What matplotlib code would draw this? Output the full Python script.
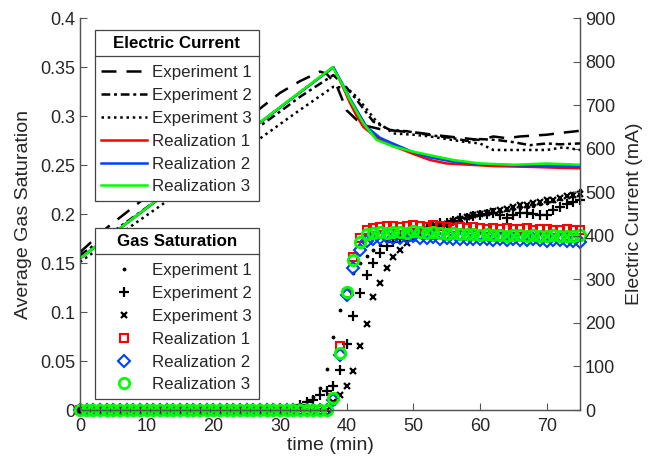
import matplotlib
matplotlib.use("Agg")
import matplotlib.pyplot as plt
from matplotlib.lines import Line2D
from matplotlib.transforms import IdentityTransform

plt.rcParams['font.family'] = ['Liberation Sans', 'DejaVu Sans']

# ---------------- data ----------------
# Gas saturation (left axis), one sample per minute, t = 0..75
t_sat = list(range(0, 76))

sat_exp1 = [0.0] * 31 + [
    0.002, 0.004, 0.006, 0.009, 0.013, 0.022, 0.042, 0.075, 0.102, 0.125,
    0.140, 0.150, 0.157, 0.163, 0.168, 0.172, 0.176, 0.179, 0.182, 0.184,
    0.186, 0.188, 0.190, 0.192, 0.193, 0.195, 0.196, 0.198, 0.199, 0.200,
    0.201, 0.202, 0.203, 0.204, 0.205, 0.206, 0.207, 0.208, 0.210, 0.211,
    0.213, 0.215, 0.218, 0.221, 0.224]
sat_exp2 = [0.0] * 33 + [
    0.005, 0.008, 0.010, 0.015, 0.019, 0.024, 0.041, 0.067, 0.096, 0.119,
    0.138, 0.150, 0.160, 0.167, 0.171, 0.175, 0.178, 0.181, 0.183, 0.185,
    0.188, 0.191, 0.191, 0.193, 0.196, 0.196, 0.198, 0.199, 0.200, 0.201,
    0.199, 0.196, 0.199, 0.201, 0.201, 0.200, 0.199, 0.199, 0.204, 0.207,
    0.210, 0.212, 0.214]
sat_exp3 = [0.0] * 38 + [
    0.008, 0.015, 0.024, 0.040, 0.065, 0.088, 0.115, 0.130, 0.145, 0.156,
    0.163, 0.170, 0.176, 0.180, 0.184, 0.186, 0.189, 0.190, 0.193, 0.195,
    0.197, 0.199, 0.200, 0.201, 0.203, 0.204, 0.205, 0.207, 0.209, 0.209,
    0.211, 0.212, 0.214, 0.214, 0.216, 0.218, 0.219, 0.220]
sat_real1 = [0.0] * 38 + [
    0.012, 0.065, 0.119, 0.156, 0.176, 0.184, 0.186, 0.187, 0.188, 0.188,
    0.187, 0.188, 0.189, 0.188, 0.187, 0.189, 0.188, 0.187, 0.186, 0.187,
    0.186, 0.187, 0.186, 0.185, 0.186, 0.185, 0.186, 0.185, 0.185, 0.186,
    0.184, 0.185, 0.185, 0.184, 0.184, 0.185, 0.184, 0.184]
sat_real2 = [0.0] * 38 + [
    0.010, 0.056, 0.117, 0.145, 0.163, 0.172, 0.175, 0.176, 0.177, 0.176,
    0.176, 0.177, 0.178, 0.176, 0.176, 0.177, 0.175, 0.176, 0.175, 0.174,
    0.175, 0.174, 0.175, 0.174, 0.173, 0.174, 0.173, 0.174, 0.173, 0.173,
    0.174, 0.173, 0.172, 0.173, 0.173, 0.172, 0.172, 0.171]
sat_real3 = [0.0] * 38 + [
    0.012, 0.058, 0.120, 0.153, 0.171, 0.180, 0.181, 0.182, 0.181, 0.182,
    0.182, 0.181, 0.183, 0.182, 0.181, 0.182, 0.181, 0.180, 0.181, 0.180,
    0.180, 0.180, 0.179, 0.180, 0.179, 0.179, 0.178, 0.179, 0.179, 0.178,
    0.179, 0.178, 0.178, 0.179, 0.178, 0.178, 0.178, 0.179]

# Electric current (right axis, mA)
t_cur_exp1 = [0, 4, 10, 20, 26, 30, 33, 36, 37, 38.5, 40, 41.5, 43, 45, 48, 51,
              54, 57, 60, 62, 64, 66, 68, 70, 72, 75]
cur_exp1 = [362, 418, 490, 610, 680, 728, 755, 777, 772, 745, 688, 666, 652, 645,
            640, 636, 630, 625, 620, 628, 624, 628, 630, 632, 636, 641]
t_cur_exp2 = [0, 10, 20, 30, 33, 38, 40, 41.5, 44, 46.5, 49, 51, 53, 56, 58, 60,
              62.5, 65, 67.5, 70, 72, 75]
cur_exp2 = [355, 465, 575, 685, 719, 769, 740, 712, 662, 643, 640, 635, 630, 624,
            618, 622, 620, 615, 608, 612, 610, 612]
t_cur_exp3 = [0, 10, 20, 26.7, 32.25, 38, 40, 41.5, 44.5, 47, 50, 52.5, 55, 57.5,
              60, 62, 65, 70, 72.5, 75]
cur_exp3 = [340, 447, 554, 620, 681, 742, 740, 719, 662, 635, 632, 628, 622, 616,
            612, 597, 597, 597, 603, 597]
t_cur_real1 = [0, 38, 39.25, 40.5, 41.5, 42.5, 44, 46, 48.5, 50.5, 52.5, 55, 58.5,
               62, 65, 68, 70, 72, 75]
cur_real1 = [348, 787, 748, 705, 675, 650, 631, 612, 597, 585, 574, 566, 563, 560,
             559, 558, 557, 556, 555]
t_cur_real2 = [0, 38, 39.25, 40.5, 43, 45, 47.5, 50, 52.5, 56, 60, 65, 70, 75]
cur_real2 = [348, 787, 752, 715, 650, 625, 608, 592, 580, 570, 565, 562, 561, 559]
t_cur_real3 = [0, 37.9, 39.25, 40.5, 42.5, 44.5, 47, 50, 52.5, 56, 60, 65, 70, 75]
cur_real3 = [348, 787, 750, 712, 658, 620, 605, 593, 585, 574, 566, 563, 566, 563]

labels = ["Experiment 1", "Experiment 2", "Experiment 3",
          "Realization 1", "Realization 2", "Realization 3"]

# ---------------- figure ----------------
fig = plt.figure(figsize=(6.48, 4.69), dpi=100)
ax = fig.add_axes([80 / 648, 1 - 410 / 469, 500 / 648, 392 / 469])
ax2 = ax.twinx()

RED = '#ff0000'
BLUE = '#0040ff'
GREEN = '#00ff00'
spine_c = '#555555'
txt_c = '#262626'

# markers (left axis)
mk = []
mk.append(ax.plot(t_sat, sat_exp1, ls='none', marker='.', ms=3.5, color='k', clip_on=False)[0])
mk.append(ax.plot(t_sat, sat_exp2, ls='none', marker='+', ms=7, mew=1.6, color='k', clip_on=False)[0])
mk.append(ax.plot(t_sat, sat_exp3, ls='none', marker='x', ms=5, mew=1.6, color='k', clip_on=False)[0])
mk.append(ax.plot(t_sat, sat_real1, ls='none', marker='s', ms=6, mew=1.5, mfc='none', mec=RED, clip_on=False)[0])
mk.append(ax.plot(t_sat, sat_real2, ls='none', marker='D', ms=6, mew=1.5, mfc='none', mec=BLUE, clip_on=False)[0])
mk.append(ax.plot(t_sat, sat_real3, ls='none', marker='o', ms=7.5, mew=2, mfc='none', mec=GREEN, clip_on=False)[0])

# lines (right axis)
ln = []
ln.append(ax2.plot(t_cur_exp1, cur_exp1, color='k', lw=1.8, dashes=(6, 4))[0])
ln.append(ax2.plot(t_cur_exp2, cur_exp2, color='k', lw=1.8, dashes=(3.5, 1.5, 1.2, 1.5))[0])
ln.append(ax2.plot(t_cur_exp3, cur_exp3, color='k', lw=1.8, dashes=(1, 1.5))[0])
ln.append(ax2.plot(t_cur_real1, cur_real1, color=RED, lw=1.8)[0])
ln.append(ax2.plot(t_cur_real2, cur_real2, color=BLUE, lw=1.8)[0])
ln.append(ax2.plot(t_cur_real3, cur_real3, color=GREEN, lw=1.8)[0])

ax.set_xlim(0, 75)
ax.set_ylim(0, 0.4)
ax2.set_ylim(0, 900)
ax.set_xticks(range(0, 71, 10))
ax.set_yticks([0, 0.05, 0.1, 0.15, 0.2, 0.25, 0.3, 0.35, 0.4])
ax.set_yticklabels(['0', '0.05', '0.1', '0.15', '0.2', '0.25', '0.3', '0.35', '0.4'])
ax2.set_yticks(range(0, 901, 100))

for a in (ax, ax2):
    a.spines['top'].set_visible(False)
    for s in a.spines.values():
        s.set_color(spine_c)
        s.set_linewidth(0.9)
    a.tick_params(direction='in', length=5, width=0.8, color=spine_c,
                  labelsize=13, labelcolor=txt_c)
ax.tick_params(axis='x', pad=6)

ax.set_xlabel('time (min)', fontsize=14, color=txt_c, labelpad=1)
ax.set_ylabel('Average Gas Saturation', fontsize=14, color=txt_c, labelpad=6)
ax2.set_ylabel('Electric Current (mA)', fontsize=14, color=txt_c, labelpad=8)

leg_kw = dict(loc='upper left', frameon=True, fancybox=False, framealpha=1,
              edgecolor='#444444', fontsize=12.2, title_fontsize=12.2,
              handlelength=2.7, handletextpad=0.3, borderpad=0.38,
              labelspacing=0.46, borderaxespad=0)
leg1 = ax2.legend(ln, labels, bbox_to_anchor=((95 - 80) / 500, (410 - 30) / 392),
                  title='Electric Current', **leg_kw)
ax2.add_artist(leg1)
leg2 = ax2.legend(mk, labels, bbox_to_anchor=((95 - 80) / 500, (410 - 228) / 392),
                  title='Gas Saturation', **leg_kw)

for lg in (leg1, leg2):
    lg.get_title().set_fontweight('bold')
    lg.get_frame().set_linewidth(0.9)
    lg._legend_box.sep = 10
    for t in lg.get_texts():
        t.set_color(txt_c)

fig.canvas.draw()
for lg in (leg1, leg2):
    bb = lg.get_window_extent()
    tb = lg.get_title().get_window_extent()
    y = tb.y0 - 5
    fig.add_artist(Line2D([bb.x0, bb.x1], [y, y], transform=IdentityTransform(),
                          color='#444444', lw=0.9))

fig.savefig('out.png', dpi=100)
